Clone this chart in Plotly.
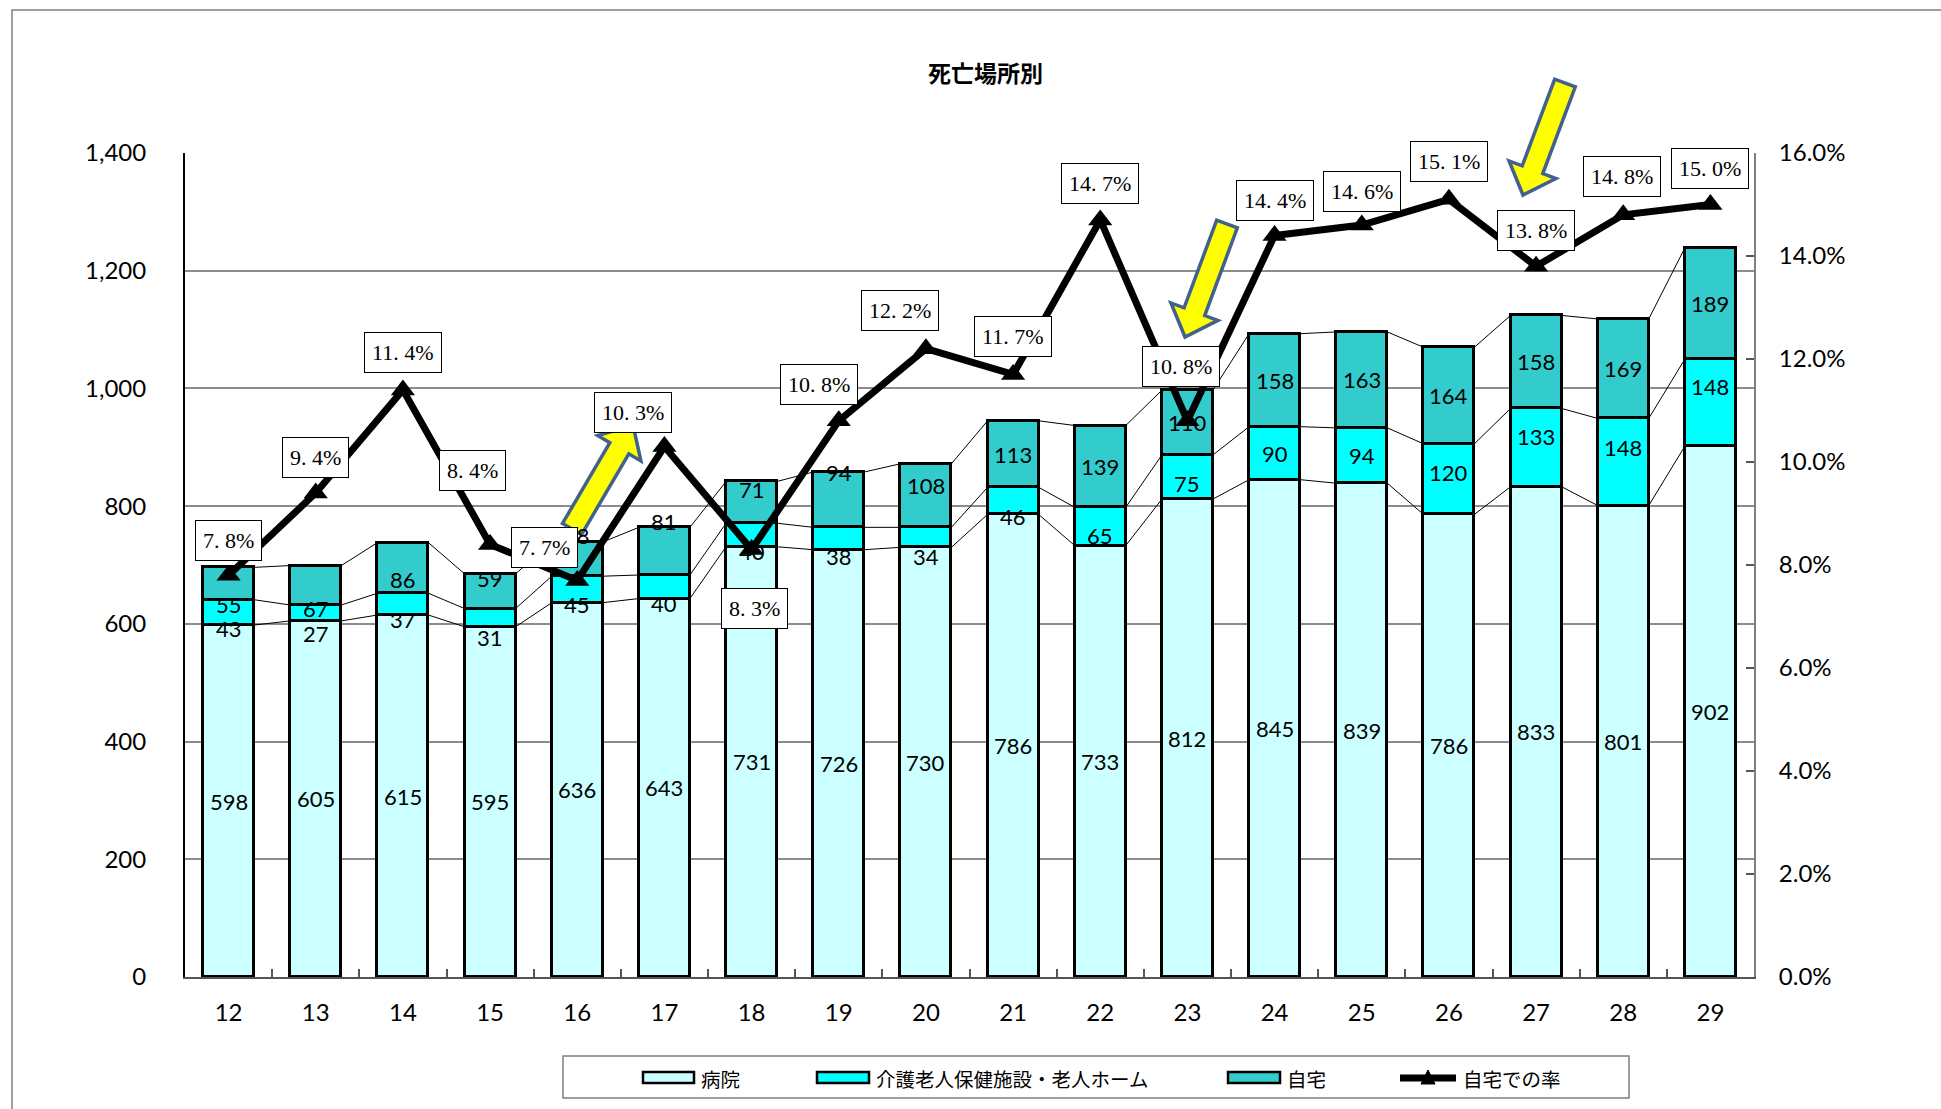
import plotly.graph_objects as go
import math

# ---------------- data ----------------
years = ["12", "13", "14", "15", "16", "17", "18", "19", "20",
         "21", "22", "23", "24", "25", "26", "27", "28", "29"]
hospital = [598, 605, 615, 595, 636, 643, 731, 726, 730, 786, 733, 812, 845, 839, 786, 833, 801, 902]
care_home = [43, 27, 37, 31, 45, 40, 40, 38, 34, 46, 65, 75, 90, 94, 120, 133, 148, 148]
home = [55, 67, 86, 59, 58, 81, 71, 94, 108, 113, 139, 110, 158, 163, 164, 158, 169, 189]
home_rate = [7.8, 9.4, 11.4, 8.4, 7.7, 10.3, 8.3, 10.8, 12.2, 11.7, 14.7, 10.8, 14.4, 14.6, 15.1, 13.8, 14.8, 15.0]

series_names = ["病院", "介護老人保健施設・老人ホーム", "自宅", "自宅での率"]
title_text = "死亡場所別"

# ---------------- style ----------------
C_HOSP = "#CCFFFF"
C_CARE = "#00FFFF"
C_HOME = "#33CCCC"
GRID = "#8c8c8c"
BAR_W = 0.585
SANS = "Lato, 'Noto Sans', sans-serif"
SERIF = "'Liberation Serif', 'DejaVu Serif', serif"
CJK = "'Noto Sans CJK JP', sans-serif"

# label pixel offsets (layout only)
care_dy = [16, 21, 15, 20, 15, 17, 17, 18, 19, 16, 9, 6, 0, 0, -7, -11, -15, -16]
home_dy = [21, 23, 12, -13, -24, -30, -13, -27, -10, 0, 0, 0, 0, 0, 0, 0, 0, 0]
rate_dx = [0, 0, 0, -18, -33, -31, 3, -20, -26, 0, 0, -6, 0, 0, 0, 0, -1, 0]
rate_dy = [-35, -35, -37, -74, -33, -34, 59, -36, -38, -38, -36, -54, -35, -34, -38, -36, -38, -36]

W, H = 1941, 1109
ML, MR, MT, MB = 185, 187, 153, 132
PW, PH = W - ML - MR, H - MT - MB


def px(x):
    return (x - ML) / PW


def py(y):
    return (H - MB - y) / PH


n = len(years)
xs = list(range(n))

fig = go.Figure()
bar_line = dict(color="black", width=3)
fig.add_trace(go.Bar(x=xs, y=hospital, marker=dict(color=C_HOSP, line=bar_line), width=BAR_W,
                     name=series_names[0], showlegend=False))
fig.add_trace(go.Bar(x=xs, y=care_home, marker=dict(color=C_CARE, line=bar_line), width=BAR_W,
                     name=series_names[1], showlegend=False))
fig.add_trace(go.Bar(x=xs, y=home, marker=dict(color=C_HOME, line=bar_line), width=BAR_W,
                     name=series_names[2], showlegend=False))

# series lines connecting stack boundaries
lvl1 = hospital
lvl2 = [a + b for a, b in zip(hospital, care_home)]
lvl3 = [a + b + c for a, b, c in zip(hospital, care_home, home)]
for lvl in (lvl1, lvl2, lvl3):
    sx, sy = [], []
    for i in range(n - 1):
        sx += [i + BAR_W / 2, i + 1 - BAR_W / 2, None]
        sy += [lvl[i], lvl[i + 1], None]
    fig.add_trace(go.Scatter(x=sx, y=sy, mode="lines", line=dict(color="black", width=1),
                             showlegend=False, hoverinfo="skip"))

# rate line
fig.add_trace(go.Scatter(x=xs, y=[r / 100 for r in home_rate], yaxis="y2", mode="lines+markers",
                         line=dict(color="black", width=7),
                         marker=dict(symbol="triangle-up", size=21, color="black"),
                         name=series_names[3], showlegend=False))

ann = []
# bar value labels
for i in xs:
    ann.append(dict(x=i, y=hospital[i] / 2, xref="x", yref="y", text=str(hospital[i]), showarrow=False,
                    font=dict(family=SANS, size=22, color="black")))
    ann.append(dict(x=i, y=hospital[i] + care_home[i] / 2, xref="x", yref="y", text=str(care_home[i]),
                    showarrow=False, yshift=-care_dy[i], font=dict(family=SANS, size=22, color="black")))
    ann.append(dict(x=i, y=lvl2[i] + home[i] / 2, xref="x", yref="y", text=str(home[i]),
                    showarrow=False, yshift=-home_dy[i], font=dict(family=SANS, size=22, color="black")))
# rate labels
for i in xs:
    t = f"{home_rate[i]:.1f}%".replace(".", ". ")
    ann.append(dict(x=i, y=home_rate[i] / 100, xref="x", yref="y2", text=t, showarrow=False,
                    xshift=rate_dx[i], yshift=-rate_dy[i],
                    font=dict(family=SERIF, size=22, color="black"),
                    bgcolor="white", bordercolor="black", borderwidth=1, borderpad=7))

# title
ann.append(dict(x=px(985), y=py(72), xref="paper", yref="paper", text="<b>" + title_text + "</b>",
                showarrow=False, xanchor="center", yanchor="middle",
                font=dict(family=CJK, size=23, color="black")))

shapes = []
# outer chart frame
shapes.append(dict(type="rect", xref="paper", yref="paper", x0=px(12), x1=px(1960), y0=py(1130), y1=py(10),
                   line=dict(color="#7f7f7f", width=1.5), fillcolor="rgba(0,0,0,0)", layer="below"))


# block arrows
def arrow(tail, tip, sw=22, hw=50, hl=27):
    tx, ty = tail
    ex, ey = tip
    dx, dy = ex - tx, ey - ty
    L = math.hypot(dx, dy)
    ux, uy = dx / L, dy / L
    nx, ny = -uy, ux
    bx, by = ex - ux * hl, ey - uy * hl
    pts = [(tx + nx * sw / 2, ty + ny * sw / 2), (bx + nx * sw / 2, by + ny * sw / 2),
           (bx + nx * hw / 2, by + ny * hw / 2), (ex, ey),
           (bx - nx * hw / 2, by - ny * hw / 2), (bx - nx * sw / 2, by - ny * sw / 2),
           (tx - nx * sw / 2, ty - ny * sw / 2)]
    p = "M " + " L ".join(f"{px(a):.5f},{py(b):.5f}" for a, b in pts) + " Z"
    return dict(type="path", xref="paper", yref="paper", path=p, fillcolor="#FFFF00",
                line=dict(color="#41618F", width=3.5), layer="above")


shapes.append(arrow((572, 529), (633, 425)))
shapes.append(arrow((1227, 224), (1185, 337)))
shapes.append(arrow((1565, 83), (1523, 195)))

# custom legend
shapes.append(dict(type="rect", xref="paper", yref="paper", x0=px(563), x1=px(1629), y0=py(1098), y1=py(1056),
                   line=dict(color="#7f7f7f", width=1.5), fillcolor="white"))
leg_items = [(643, 694, C_HOSP, 699), (817, 869, C_CARE, 874), (1228, 1280, C_HOME, 1285)]
for (a, b, c, tx), name in zip(leg_items, series_names[:3]):
    shapes.append(dict(type="rect", xref="paper", yref="paper", x0=px(a), x1=px(b), y0=py(1083), y1=py(1072),
                       line=dict(color="black", width=2.5), fillcolor=c))
    ann.append(dict(x=px(tx), y=py(1078), xref="paper", yref="paper", text=name, showarrow=False,
                    xanchor="left", yanchor="middle", font=dict(family=CJK, size=19.5, color="black")))
shapes.append(dict(type="line", xref="paper", yref="paper", x0=px(1400), x1=px(1456), y0=py(1078), y1=py(1078),
                   line=dict(color="black", width=7)))
shapes.append(dict(type="path", xref="paper", yref="paper",
                   path=f"M {px(1421):.5f},{py(1084):.5f} L {px(1435):.5f},{py(1084):.5f} L {px(1428):.5f},{py(1070):.5f} Z",
                   fillcolor="black", line=dict(color="black", width=1)))
ann.append(dict(x=px(1461), y=py(1078), xref="paper", yref="paper", text=series_names[3], showarrow=False,
                xanchor="left", yanchor="middle", font=dict(family=CJK, size=19.5, color="black")))

fig.update_layout(
    width=W, height=H,
    margin=dict(l=ML, r=MR, t=MT, b=MB, pad=0),
    paper_bgcolor="white", plot_bgcolor="white",
    barmode="stack", bargap=0,
    showlegend=False,
    annotations=ann, shapes=shapes,
    font=dict(family=SANS, color="black"),
    xaxis=dict(range=[-0.5, n - 0.5], tickmode="array", tickvals=xs, ticktext=years,
               showgrid=False, zeroline=False, showline=True, linecolor="#555555", linewidth=2,
               ticks="", ticklabelstandoff=13, tickfont=dict(family=SANS, size=24, color="black"),
               minor=dict(tickmode="array", tickvals=[i + 0.5 for i in range(n - 1)], ticks="inside",
                          ticklen=8, tickcolor="#555555", tickwidth=1.5, showgrid=False)),
    yaxis=dict(range=[0, 1400], dtick=200, tickformat=",d", showgrid=True, gridcolor=GRID, gridwidth=1.5,
               zeroline=False, showline=True, linecolor="black", linewidth=2, ticks="",
               ticklabelstandoff=32, tickfont=dict(family=SANS, size=24, color="black")),
    yaxis2=dict(range=[0, 0.16], dtick=0.02, tickformat=".1%", overlaying="y", side="right",
                showgrid=False, zeroline=False, showline=True, linecolor="#7f7f7f", linewidth=2,
                ticks="inside", ticklen=8, tickcolor="#555555", tickwidth=1.5,
                ticklabelstandoff=18, tickfont=dict(family=SANS, size=24, color="black")),
)

fig.write_html("out.html")
